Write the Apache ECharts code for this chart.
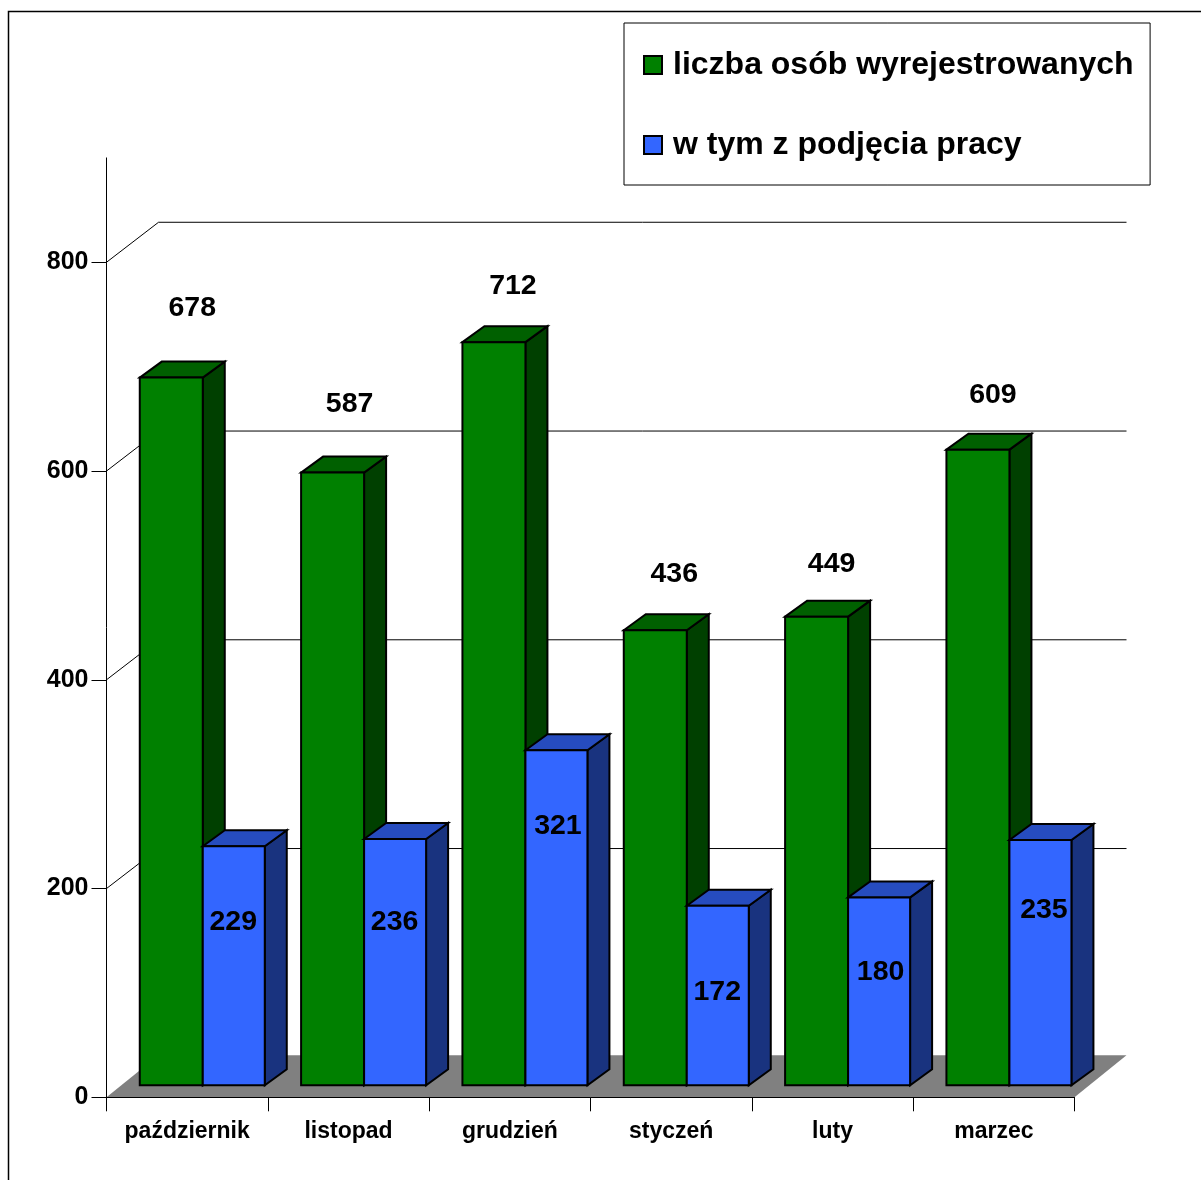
<!DOCTYPE html>
<html><head><meta charset="utf-8">
<style>html,body{margin:0;padding:0;background:#fff;overflow:hidden}#c{width:1201px;height:1180px}</style>
<script src="https://cdn.jsdelivr.net/npm/echarts@6/dist/echarts.min.js"></script>
</head><body><div id="c"></div>
<script>
const categories = ['październik','listopad','grudzień','styczeń','luty','marzec'];
const seriesNames = ['liczba osób wyrejestrowanych','w tym z podjęcia pracy'];
const registeredOut = [678,587,712,436,449,609];
const fromWork = [229,236,321,172,180,235];
const yTicks = [0,200,400,600,800];

// label placement, relative to the bar's front top-centre (px)
const greenLabelOffsets = [[21,-69.5],[17,-68.5],[19,-56],[19,-56],[15,-52.5],[15,-54.5]];
const blueLabelOffsets = [[-0.5,76],[-0.5,83],[1.5,76],[-0.5,86.5],[1.5,74.5],[3.5,70.5]];

const FONT = '"Liberation Sans", Arial, sans-serif';
const GREEN_W = 63, BLUE_W = 62, SHIFT_X = 15.6, SHIFT_Y = 12, DX = 22, DY = 16, WALL_X = 52, WALL_Y = 40, FLOOR_Y = 42;

function bar(api, side, colors, offsets) {
  const cat = api.value(0), val = api.value(1);
  const c = api.coord([cat, val]), z = api.coord([cat, 0]);
  const w = side < 0 ? GREEN_W : BLUE_W;
  const x0 = c[0] + SHIFT_X + (side < 0 ? -w : 0), x1 = x0 + w;
  const yT = c[1] - SHIFT_Y, yB = z[1] - SHIFT_Y;
  const st = {stroke:'#000', lineWidth:2, lineJoin:'miter'};
  const off = offsets[cat];
  return {type:'group', children:[
    {type:'polygon', shape:{points:[[x1,yT],[x1+DX,yT-DY],[x1+DX,yB-DY],[x1,yB]]}, style:{fill:colors[2],...st}},
    {type:'polygon', shape:{points:[[x0,yT],[x0+DX,yT-DY],[x1+DX,yT-DY],[x1,yT]]}, style:{fill:colors[1],...st}},
    {type:'rect', shape:{x:x0,y:yT,width:w,height:yB-yT}, style:{fill:colors[0],...st}},
    {type:'text', style:{x:(x0+x1)/2+off[0], y:yT+off[1], text:String(val), fill:'#000',
      font:'bold 28.5px '+FONT, align:'center', verticalAlign:'middle'}}
  ]};
}
const GREEN = ['#008000','#006000','#004000'];
const BLUE = ['#3366FF','#264CBF','#19337F'];

function backdrop(params, api) {
  const v = api.value(0);
  const p = api.coord([0, v]);
  const cs = params.coordSys;
  const x0 = cs.x, x1 = cs.x + cs.width, y = p[1];
  const children = [];
  if (v === 0) {
    children.push({type:'polygon', shape:{points:[[x0,y],[x0+WALL_X,y-FLOOR_Y],[x1+WALL_X,y-FLOOR_Y],[x1,y]]},
      style:{fill:'#808080'}});
  } else {
    children.push({type:'polyline', shape:{points:[[x0,y],[x0+WALL_X,y-WALL_Y],[x1+WALL_X,y-WALL_Y]]},
      style:{stroke:'#000', lineWidth:1, fill:null}});
  }
  return {type:'group', children};
}

const chart = echarts.init(document.getElementById('c'), null, {renderer:'canvas'});
chart.setOption({
  animation:false,
  backgroundColor:'#fff',
  textStyle:{fontFamily:FONT},
  graphic:[{type:'rect', silent:true, z:-1, shape:{x:8.5,y:11.5,width:1400,height:1400},
    style:{fill:null, stroke:'#000', lineWidth:1.5}}],
  legend:{
    orient:'vertical', left:624, top:23, padding:[26,16.5,24,19], itemGap:48,
    itemWidth:18, itemHeight:18, backgroundColor:'#fff', borderColor:'#000', borderWidth:1,
    data:[
      {name:seriesNames[0], icon:'rect', itemStyle:{color:GREEN[0], borderColor:'#000', borderWidth:2}},
      {name:seriesNames[1], icon:'rect', itemStyle:{color:BLUE[0], borderColor:'#000', borderWidth:2}}
    ],
    textStyle:{fontFamily:FONT, fontWeight:'bold', fontSize:32, color:'#000', padding:[0,0,0,6]},
    selectedMode:false
  },
  grid:{left:106.5, top:157.9, width:968, height:939.4, containLabel:false},
  xAxis:{type:'category', data:categories, z:10,
    axisLine:{show:true, lineStyle:{color:'#000', width:1}},
    axisTick:{show:true, length:14, alignWithLabel:false, lineStyle:{color:'#000', width:1}},
    axisLabel:{fontFamily:FONT, fontWeight:'bold', fontSize:23, color:'#000', margin:23, interval:0},
    splitLine:{show:false}},
  yAxis:{type:'value', min:0, max:900, interval:200, z:10,
    axisLine:{show:true, lineStyle:{color:'#000', width:1}},
    axisTick:{show:true, length:15, customValues:yTicks, lineStyle:{color:'#000', width:1}},
    axisLabel:{fontFamily:FONT, fontWeight:'bold', fontSize:25, color:'#000', margin:18, customValues:yTicks, padding:[5,0,0,0]},
    splitLine:{show:false}},
  series:[
    {type:'custom', name:'_back', coordinateSystem:'cartesian2d', silent:true, clip:false, z:1,
      data:yTicks.map(v=>[v]), encode:{y:0}, renderItem:backdrop},
    {type:'custom', name:seriesNames[0], coordinateSystem:'cartesian2d', clip:false, z:2,
      itemStyle:{color:GREEN[0]},
      data:registeredOut.map((v,i)=>[i,v]), encode:{x:0,y:1},
      renderItem:(p,api)=>bar(api,-1,GREEN,greenLabelOffsets)},
    {type:'custom', name:seriesNames[1], coordinateSystem:'cartesian2d', clip:false, z:3,
      itemStyle:{color:BLUE[0]},
      data:fromWork.map((v,i)=>[i,v]), encode:{x:0,y:1},
      renderItem:(p,api)=>bar(api,1,BLUE,blueLabelOffsets)}
  ]
});
</script></body></html>
